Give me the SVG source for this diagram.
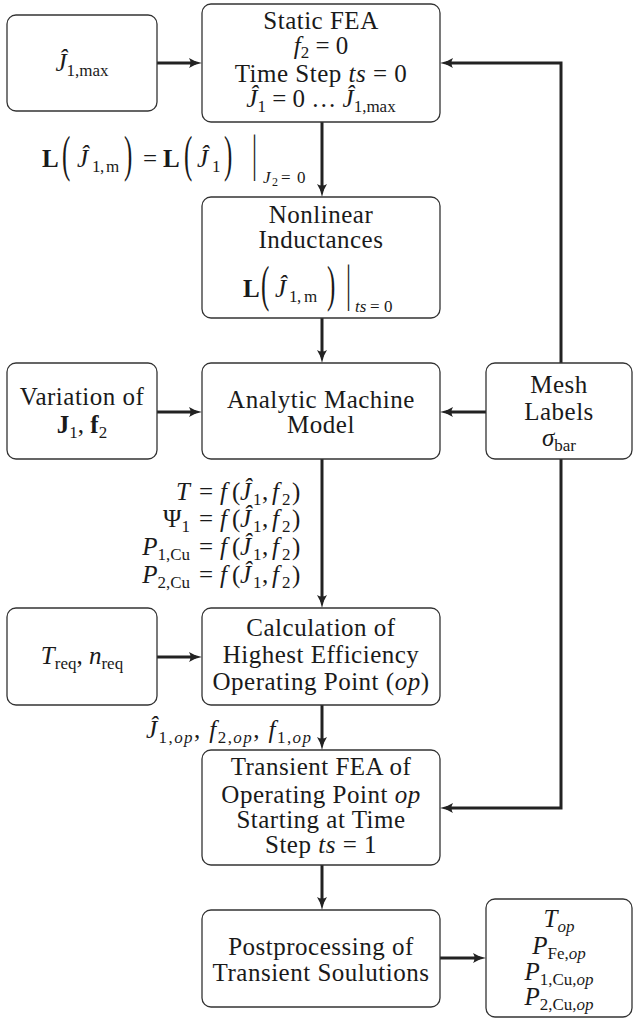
<svg xmlns="http://www.w3.org/2000/svg" width="633" height="1019" viewBox="0 0 633 1019">
<style>
.box{fill:#fff;stroke:#333;stroke-width:1.3}
.con{fill:none;stroke:#222;stroke-width:3}
.t{font-family:"Liberation Serif","DejaVu Serif",serif;font-size:25px;fill:#1a1a1a}
.w{letter-spacing:0.5px}
.c{text-anchor:middle}
.e{text-anchor:end}
.i{font-style:italic}
.b{font-weight:bold}
.s{font-size:17px}
.ss{font-size:12px}
</style>
<defs>
<marker id="ah" viewBox="0 0 13 10" refX="7" refY="5" markerWidth="13" markerHeight="10" markerUnits="userSpaceOnUse" orient="auto">
<path d="M0,0 Q6,4 13,5 Q6,6 0,10 Q3,5 0,0 z" fill="#222"/>
</marker>
</defs>
<rect width="633" height="1019" fill="#fff"/>

<g id="connectors">
<line class="con" x1="157" y1="63" x2="196" y2="63" marker-end="url(#ah)"/>
<polyline class="con" points="561,363 561,63 446,63" marker-end="url(#ah)"/>
<polyline class="con" points="561,459 561,808 446,808" marker-end="url(#ah)"/>
<line class="con" x1="322" y1="122" x2="322" y2="191" marker-end="url(#ah)"/>
<line class="con" x1="322" y1="318" x2="322" y2="357" marker-end="url(#ah)"/>
<line class="con" x1="157" y1="412" x2="196" y2="412" marker-end="url(#ah)"/>
<line class="con" x1="486" y1="412" x2="446" y2="412" marker-end="url(#ah)"/>
<line class="con" x1="322" y1="459" x2="322" y2="602" marker-end="url(#ah)"/>
<line class="con" x1="157" y1="657" x2="196" y2="657" marker-end="url(#ah)"/>
<line class="con" x1="322" y1="705" x2="322" y2="744" marker-end="url(#ah)"/>
<line class="con" x1="322" y1="865" x2="322" y2="904" marker-end="url(#ah)"/>
<line class="con" x1="440" y1="958" x2="480" y2="958" marker-end="url(#ah)"/>
</g>

<g id="labels">
<g id="label-inductance">
<text class="t"><tspan x="42" y="167" class="b">L</tspan><tspan x="77" y="167" class="i">Ĵ</tspan><tspan x="92" y="172" class="s">1</tspan><tspan x="100" y="172" class="s">,</tspan><tspan x="106" y="172" class="s">m</tspan><tspan x="143" y="167">=</tspan><tspan x="163" y="167" class="b">L</tspan><tspan x="197" y="167" class="i">Ĵ</tspan><tspan x="212" y="172" class="s">1</tspan><tspan x="263" y="183" class="s i">J</tspan><tspan x="272" y="186" class="ss">2</tspan><tspan x="281" y="183" class="s">=</tspan><tspan x="297" y="183" class="s">0</tspan></text>
<text class="t" transform="translate(62,171) scale(1,2)">(</text>
<text class="t" transform="translate(124,171) scale(1,2)">)</text>
<text class="t" transform="translate(184,171) scale(1,2)">(</text>
<text class="t" transform="translate(224,171) scale(1,2)">)</text>
<text class="t" transform="translate(252,170) scale(1,2)">|</text>
</g>
<g id="label-functions">
<text class="t e" x="190" y="500"><tspan class="i">T</tspan></text>
<text class="t e" x="190" y="527"><tspan>Ψ</tspan><tspan class="s" dy="5">1</tspan></text>
<text class="t e" x="190" y="555"><tspan class="i">P</tspan><tspan class="s" dy="5">1,Cu</tspan></text>
<text class="t e" x="190" y="583"><tspan class="i">P</tspan><tspan class="s" dy="5">2,Cu</tspan></text>
<text class="t"><tspan x="199" y="500">=</tspan><tspan x="220" y="500" class="i">f</tspan><tspan x="232" y="500">(</tspan><tspan x="240" y="500" class="i">Ĵ</tspan><tspan x="253" y="505" class="s">1</tspan><tspan x="262" y="500">,</tspan><tspan x="272" y="500" class="i">f</tspan><tspan x="282" y="505" class="s">2</tspan><tspan x="292" y="500">)</tspan></text>
<text class="t"><tspan x="199" y="527">=</tspan><tspan x="220" y="527" class="i">f</tspan><tspan x="232" y="527">(</tspan><tspan x="240" y="527" class="i">Ĵ</tspan><tspan x="253" y="532" class="s">1</tspan><tspan x="262" y="527">,</tspan><tspan x="272" y="527" class="i">f</tspan><tspan x="282" y="532" class="s">2</tspan><tspan x="292" y="527">)</tspan></text>
<text class="t"><tspan x="199" y="555">=</tspan><tspan x="220" y="555" class="i">f</tspan><tspan x="232" y="555">(</tspan><tspan x="240" y="555" class="i">Ĵ</tspan><tspan x="253" y="560" class="s">1</tspan><tspan x="262" y="555">,</tspan><tspan x="272" y="555" class="i">f</tspan><tspan x="282" y="560" class="s">2</tspan><tspan x="292" y="555">)</tspan></text>
<text class="t"><tspan x="199" y="583">=</tspan><tspan x="220" y="583" class="i">f</tspan><tspan x="232" y="583">(</tspan><tspan x="240" y="583" class="i">Ĵ</tspan><tspan x="253" y="588" class="s">1</tspan><tspan x="262" y="583">,</tspan><tspan x="272" y="583" class="i">f</tspan><tspan x="282" y="588" class="s">2</tspan><tspan x="292" y="583">)</tspan></text>
</g>
<text id="label-op" class="t e" x="311" y="738" textLength="165" lengthAdjust="spacing"><tspan class="i">Ĵ</tspan><tspan class="s" dy="5">1,<tspan class="i">op</tspan></tspan><tspan dy="-5">, </tspan><tspan class="i">f</tspan><tspan class="s" dy="5">2,<tspan class="i">op</tspan></tspan><tspan dy="-5">, </tspan><tspan class="i">f</tspan><tspan class="s" dy="5">1,<tspan class="i">op</tspan></tspan></text>
</g>

<g id="n-j1max">
<rect class="box" x="7" y="15" width="150" height="96" rx="9"/>
<text class="t c" x="82" y="71"><tspan class="i">Ĵ</tspan><tspan class="s" dy="5">1,max</tspan></text>
</g>

<g id="n-static">
<rect class="box" x="202" y="4" width="238" height="118" rx="9"/>
<text class="t c w" x="321" y="29">Static FEA</text>
<text class="t c" x="321" y="54"><tspan class="i">f</tspan><tspan class="s" dy="4">2</tspan><tspan dy="-4"> = 0</tspan></text>
<text class="t c w" x="321" y="82">Time Step <tspan class="i">ts</tspan> = 0</text>
<text class="t c" x="321" y="107"><tspan class="i">Ĵ</tspan><tspan class="s" dy="5">1</tspan><tspan dy="-5"> = 0 … </tspan><tspan class="i">Ĵ</tspan><tspan class="s" dy="5">1,max</tspan></text>
</g>

<g id="n-nonlinear">
<rect class="box" x="202" y="197" width="238" height="121" rx="9"/>
<text class="t c w" x="321" y="223">Nonlinear</text>
<text class="t c w" x="321" y="248">Inductances</text>
<text class="t"><tspan x="243" y="297" class="b">L</tspan><tspan x="275" y="297" class="i">Ĵ</tspan><tspan x="289" y="302" class="s">1</tspan><tspan x="297" y="302" class="s">,</tspan><tspan x="304" y="302" class="s">m</tspan><tspan x="355" y="312" class="s i">ts</tspan><tspan x="370" y="312" class="s">=</tspan><tspan x="384" y="312" class="s">0</tspan></text>
<text class="t" transform="translate(261,301) scale(1,2)">(</text>
<text class="t" transform="translate(327,301) scale(1,2)">)</text>
<text class="t" transform="translate(346,300) scale(1,2)">|</text>
</g>

<g id="n-variation">
<rect class="box" x="7" y="363" width="150" height="96" rx="9"/>
<text class="t c w" x="82" y="405">Variation of</text>
<text class="t c" x="82" y="433"><tspan class="b">J</tspan><tspan class="s" dy="5">1</tspan><tspan dy="-5">, </tspan><tspan class="b">f</tspan><tspan class="s" dy="5">2</tspan></text>
</g>

<g id="n-analytic">
<rect class="box" x="202" y="363" width="238" height="96" rx="9"/>
<text class="t c w" x="321" y="408">Analytic Machine</text>
<text class="t c w" x="321" y="433">Model</text>
</g>

<g id="n-mesh">
<rect class="box" x="486" y="363" width="146" height="96" rx="9"/>
<text class="t c w" x="559" y="393">Mesh</text>
<text class="t c w" x="559" y="420">Labels</text>
<text class="t c" x="559" y="446"><tspan class="i">σ</tspan><tspan class="s" dy="5">bar</tspan></text>
</g>

<g id="n-treq">
<rect class="box" x="7" y="608" width="150" height="97" rx="9"/>
<text class="t c" x="82" y="664"><tspan class="i">T</tspan><tspan class="s" dy="5">req</tspan><tspan dy="-5">, </tspan><tspan class="i">n</tspan><tspan class="s" dy="5">req</tspan></text>
</g>

<g id="n-calc">
<rect class="box" x="202" y="608" width="238" height="97" rx="9"/>
<text class="t c w" x="321" y="636">Calculation of</text>
<text class="t c w" x="321" y="663">Highest Efficiency</text>
<text class="t c w" x="321" y="690">Operating Point (<tspan class="i">op</tspan>)</text>
</g>

<g id="n-transient">
<rect class="box" x="202" y="750" width="238" height="115" rx="9"/>
<text class="t c w" x="321" y="775">Transient FEA of</text>
<text class="t c w" x="321" y="803">Operating Point <tspan class="i">op</tspan></text>
<text class="t c w" x="321" y="828">Starting at Time</text>
<text class="t c w" x="321" y="853">Step <tspan class="i">ts</tspan> = 1</text>
</g>

<g id="n-post">
<rect class="box" x="202" y="910" width="238" height="97" rx="9"/>
<text class="t c w" x="321" y="955">Postprocessing of</text>
<text class="t c w" x="321" y="981">Transient Soulutions</text>
</g>

<g id="n-output">
<rect class="box" x="486" y="899" width="146" height="118" rx="9"/>
<text class="t c" x="559" y="927"><tspan class="i">T</tspan><tspan class="s i" dy="5">op</tspan></text>
<text class="t c" x="559" y="954"><tspan class="i">P</tspan><tspan class="s" dy="5">Fe,<tspan class="i">op</tspan></tspan></text>
<text class="t c" x="559" y="980"><tspan class="i">P</tspan><tspan class="s" dy="5">1,Cu,<tspan class="i">op</tspan></tspan></text>
<text class="t c" x="559" y="1005"><tspan class="i">P</tspan><tspan class="s" dy="5">2,Cu,<tspan class="i">op</tspan></tspan></text>
</g>
</svg>
